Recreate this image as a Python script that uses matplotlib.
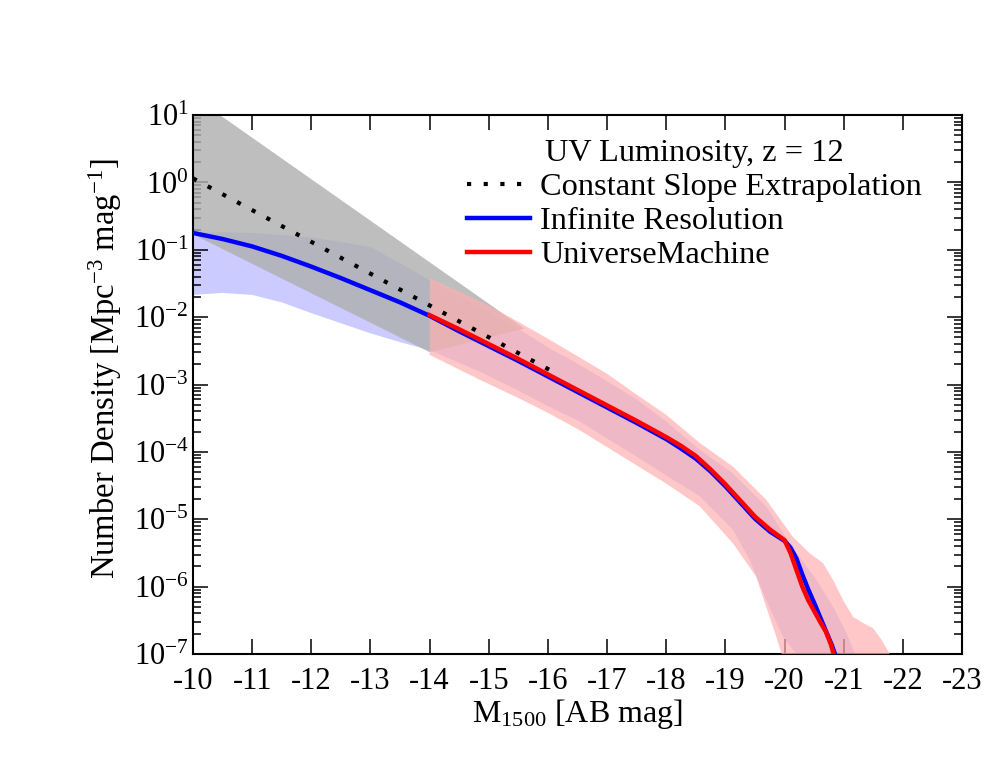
import numpy as np
import matplotlib
matplotlib.use("Agg")
import matplotlib.pyplot as plt
from matplotlib.ticker import LogLocator, FuncFormatter, FixedLocator, NullFormatter

plt.rcParams['font.family'] = ['Liberation Serif', 'DejaVu Serif']
plt.rcParams['mathtext.fontset'] = 'custom'
plt.rcParams['mathtext.rm'] = 'Liberation Serif'
plt.rcParams['mathtext.it'] = 'Liberation Serif:italic'
plt.rcParams['mathtext.bf'] = 'Liberation Serif:bold'
plt.rcParams['axes.unicode_minus'] = False

# ---- data (log10 number density) ----
inf_x = [-10, -10.5, -11, -11.5, -12, -12.5, -13, -13.5, -14, -14.5, -15, -15.5, -16,
         -16.5, -17, -17.5, -18, -18.25, -18.5, -18.75, -19, -19.25, -19.5, -19.75,
         -20, -20.1, -20.2, -20.3, -20.4, -20.5, -20.6, -20.7, -20.8, -20.86]
inf_logy = [-0.75, -0.84, -0.95, -1.09, -1.25, -1.42, -1.60, -1.78, -1.98, -2.21, -2.43,
            -2.65, -2.88, -3.11, -3.34, -3.57, -3.81, -3.95, -4.10, -4.29, -4.51, -4.75,
            -4.99, -5.18, -5.32, -5.42, -5.58, -5.82, -6.04, -6.24, -6.45, -6.66, -6.87,
            -7.02]

um_x = [-14, -14.5, -15, -15.5, -16, -16.5, -17, -17.5, -18, -18.25, -18.5, -18.75, -19,
        -19.25, -19.5, -19.75, -20, -20.1, -20.2, -20.3, -20.4, -20.5, -20.6, -20.7,
        -20.78, -20.84]
um_logy = [-1.97, -2.18, -2.40, -2.62, -2.85, -3.08, -3.31, -3.54, -3.78, -3.91, -4.06,
           -4.26, -4.48, -4.72, -4.96, -5.15, -5.31, -5.50, -5.75, -6.00, -6.20, -6.36,
           -6.52, -6.67, -6.85, -7.03]

slope_x = [-10, -16.15]
slope_logy = [0.06, -2.84]

# grey extrapolation band
grey_hi_x = [-10, -15.6]
grey_hi = [1.28, -2.17]
grey_lo_x = [-10, -14, -15.6]
grey_lo = [-0.77, -2.52, -2.17]

# infinite-resolution band
inf_hi_x = [-10, -10.5, -11, -11.5, -12, -12.5, -13, -13.5, -14, -14.5, -15, -15.5, -16,
            -16.5, -17, -17.5, -18, -18.57, -19.13, -19.69, -20.09, -20.54, -20.82,
            -21.05, -21.19]
inf_hi = [-0.75, -0.74, -0.75, -0.78, -0.82, -0.88, -0.96, -1.2, -1.45, -1.68, -1.92,
          -2.17, -2.45, -2.69, -2.95, -3.22, -3.55, -3.97, -4.32, -4.81, -5.36, -5.90,
          -6.30, -6.69, -7.0]
inf_lo_x = [-10, -10.5, -11, -11.5, -12, -12.5, -13, -13.5, -14, -14.85, -15.5, -16,
            -16.54, -17, -17.5, -18, -18.57, -19.13, -19.41, -19.69, -19.97, -20.2]
inf_lo = [-1.67, -1.64, -1.67, -1.78, -1.94, -2.09, -2.24, -2.37, -2.49, -2.81, -3.09,
          -3.32, -3.55, -3.80, -4.07, -4.35, -4.66, -5.16, -5.60, -6.20, -6.74, -7.0]

# UniverseMachine band
um_hi_x = [-14, -14.5, -15, -15.5, -16, -16.5, -17, -17.5, -18, -18.57, -19.13, -19.69,
           -20.14, -20.43, -20.65, -20.82, -20.99, -21.16, -21.33, -21.5, -21.64, -21.78]
um_hi = [-1.42, -1.62, -1.83, -2.07, -2.32, -2.58, -2.84, -3.15, -3.45, -3.87, -4.22,
         -4.71, -5.26, -5.51, -5.65, -5.90, -6.20, -6.45, -6.54, -6.62, -6.79, -7.0]
um_lo_x = [-14, -14.85, -15.5, -16, -16.54, -17, -17.5, -18, -18.57, -19.13, -19.52,
           -19.69, -19.86, -19.95]
um_lo = [-2.56, -2.93, -3.20, -3.42, -3.68, -3.93, -4.20, -4.47, -4.81, -5.36, -5.85,
         -6.30, -6.74, -7.0]

xticks = list(range(-10, -24, -1))

def band(ax, hx, hy, lx, ly, **kw):
    xs = list(hx) + list(lx)[::-1]
    ys = [10.0 ** v for v in list(hy) + list(ly)[::-1]]
    ax.fill(xs, ys, lw=0, **kw)

fig = plt.figure(figsize=(9.97, 7.70), dpi=100)
ax = fig.add_axes([0.1936, 0.1506, 0.7713, 0.700])
ax.set_yscale('log')

band(ax, inf_hi_x, inf_hi, inf_lo_x, inf_lo, color=(0.6, 0.6, 1.0), alpha=0.5, zorder=1)
band(ax, grey_hi_x, grey_hi, grey_lo_x, grey_lo, color=(0.69, 0.69, 0.69), alpha=0.82, zorder=2)
band(ax, um_hi_x, um_hi, um_lo_x, um_lo, color=(1.0, 0.69, 0.69), alpha=0.70, zorder=3)

ax.plot(slope_x, [10.0 ** v for v in slope_logy], color='black', lw=3,
        linestyle=(0, (1, 3)), dash_capstyle='butt', zorder=4,
        label='Constant Slope Extrapolation')
ax.plot(inf_x, [10.0 ** v for v in inf_logy], color='#0000ff', lw=3.2, zorder=5,
        solid_joinstyle='round', label='Infinite Resolution')
ax.plot(um_x, [10.0 ** v for v in um_logy], color='#ff0000', lw=3.2, zorder=6,
        solid_joinstyle='round', label='UniverseMachine')

ax.set_xlim(-10, -23)
ax.set_ylim(1e-7, 1e1)

ax.xaxis.set_major_locator(FixedLocator(xticks))
ax.set_xticklabels([str(t) for t in xticks])
ax.yaxis.set_major_locator(LogLocator(base=10, numticks=20))
ax.yaxis.set_minor_locator(LogLocator(base=10, subs=np.arange(2, 10), numticks=20))
ax.yaxis.set_minor_formatter(NullFormatter())
ax.yaxis.set_major_formatter(FuncFormatter(lambda v, p: r'$10^{%d}$' % int(round(np.log10(v)))))

ax.tick_params(which='both', direction='in', top=True, right=True, labelsize=22)
ax.tick_params(which='major', length=11, width=1.1)
ax.tick_params(which='minor', length=5.5, width=1.1)
ax.tick_params(axis='x', pad=9)
ax.tick_params(axis='y', pad=3)
for s in ax.spines.values():
    s.set_linewidth(1.5)

ax.set_xlabel(r'M$_{1500}$ [AB mag]', fontsize=23, labelpad=1)
ax.set_ylabel(r'Number Density [Mpc$^{-3}$ mag$^{-1}$]', fontsize=23.5, labelpad=7)
ax.yaxis.label.set_y(0.53)

leg = ax.legend(loc='upper right', bbox_to_anchor=(0.948, 0.956), frameon=False,
                fontsize=23.3, title='UV Luminosity, z = 12', title_fontsize=23.3,
                handlelength=1.95, handletextpad=0.31, labelspacing=0.14,
                borderpad=0, borderaxespad=0)

fig.savefig('out.png', dpi=100)
